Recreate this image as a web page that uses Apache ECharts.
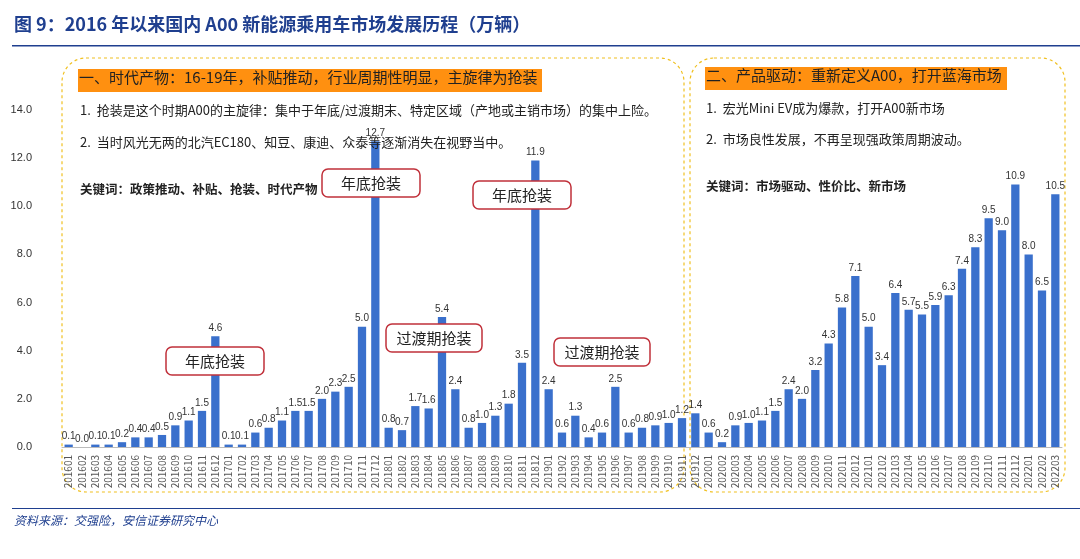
<!DOCTYPE html><html><head><meta charset="utf-8">
<script src="https://cdn.jsdelivr.net/npm/echarts@6/dist/echarts.min.js"></script>
<style>body{margin:0}#c{width:1080px;height:559px}</style></head><body><div id="c"></div><script>
const years=['2016','2017','2018','2019','2020','2021','2022'];
const categories=[];
years.forEach(y=>{for(let m=1;m<=12;m++){if(y==='2022'&&m>3)break;categories.push(y+String(m).padStart(2,'0'));}});
const values=[0.1,0.0,0.1,0.1,0.2,0.4,0.4,0.5,0.9,1.1,1.5,4.6,
0.1,0.1,0.6,0.8,1.1,1.5,1.5,2.0,2.3,2.5,5.0,12.7,
0.8,0.7,1.7,1.6,5.4,2.4,0.8,1.0,1.3,1.8,3.5,11.9,
2.4,0.6,1.3,0.4,0.6,2.5,0.6,0.8,0.9,1.0,1.2,1.4,
0.6,0.2,0.9,1.0,1.1,1.5,2.4,2.0,3.2,4.3,5.8,7.1,
5.0,3.4,6.4,5.7,5.5,5.9,6.3,7.4,8.3,9.5,9.0,10.9,
8.0,6.5,10.5];
const F='"Noto Sans CJK SC","Noto Sans",sans-serif';
const txt=(x,y,t,o={})=>({type:'text',left:x,top:y,z:100,style:Object.assign({text:t,font:'13px '+F,fill:'#222'},o)});
const tag=(cx,cy,w,t)=>[
 {type:'rect',z:100,shape:{x:cx-w/2,y:cy-14,width:w,height:28,r:6},style:{fill:'#fff',stroke:'#c0303a',lineWidth:1.5}},
 {type:'text',z:101,style:{x:cx,y:cy,text:t,font:'15px '+F,fill:'#222',align:'center',verticalAlign:'middle'}}];
const chart=echarts.init(document.getElementById('c'));
chart.setOption({
 animation:false,
 grid:{left:62,right:18,top:110,bottom:112},
 xAxis:{type:'category',data:categories,axisTick:{show:false},axisLine:{lineStyle:{color:'#bbb'}},
  axisLabel:{rotate:90,interval:0,fontSize:10,color:'#555',fontFamily:F}},
 yAxis:{type:'value',min:0,max:14,interval:2,splitLine:{show:false},axisLabel:{formatter:v=>v.toFixed(1),fontSize:11,color:'#333',margin:30}},
 series:[{type:'bar',data:values,barWidth:'62%',itemStyle:{color:'#3a70cc'},
  label:{show:true,position:'top',formatter:p=>p.value.toFixed(1),fontSize:10,color:'#333',distance:3}}],
 graphic:[
  txt(14,15,'图 9：2016 年以来国内 A00 新能源乘用车市场发展历程（万辆）',{font:'bold 18px '+F,fill:'#1f3f8f'}),
  {type:'rect',shape:{x:12,y:45,width:1068,height:1.5},style:{fill:'#1f3f8f'}},
  {type:'rect',shape:{x:12,y:508,width:1068,height:1},style:{fill:'#1f3f8f'}},
  txt(14,514,'资料来源：交强险，安信证券研究中心',{font:'italic 12px '+F,fill:'#1f3f8f'}),
  {type:'rect',shape:{x:62,y:58,width:622,height:434,r:24},style:{fill:'none',stroke:'#f0c020',lineDash:[3,3],lineWidth:1.2}},
  {type:'rect',shape:{x:690,y:58,width:375,height:434,r:24},style:{fill:'none',stroke:'#f0c020',lineDash:[3,3],lineWidth:1.2}},
  {type:'rect',z:99,shape:{x:78,y:69,width:464,height:23},style:{fill:'#ff9010'}},
  txt(79,70,'一、时代产物：16-19年，补贴推动，行业周期性明显，主旋律为抢装',{font:'15px '+F,fill:'#222'}),
  txt(80,104,'1.  抢装是这个时期A00的主旋律：集中于年底/过渡期末、特定区域（产地或主销市场）的集中上险。'),
  txt(80,136,'2.  当时风光无两的北汽EC180、知豆、康迪、众泰等逐渐消失在视野当中。'),
  txt(80,183,'关键词：政策推动、补贴、抢装、时代产物',{font:'bold 12.5px '+F}),
  {type:'rect',z:99,shape:{x:705,y:67,width:302,height:23},style:{fill:'#ff9010'}},
  txt(706,68,'二、产品驱动：重新定义A00，打开蓝海市场',{font:'15px '+F,fill:'#222'}),
  txt(706,102,'1.  宏光Mini EV成为爆款，打开A00新市场'),
  txt(706,133,'2.  市场良性发展，不再呈现强政策周期波动。'),
  txt(706,180,'关键词：市场驱动、性价比、新市场',{font:'bold 12.5px '+F}),
  ...tag(215,361,98,'年底抢装'),
  ...tag(371,183,98,'年底抢装'),
  ...tag(522,195,98,'年底抢装'),
  ...tag(434,338,96,'过渡期抢装'),
  ...tag(602,352,96,'过渡期抢装')
 ]
});
</script></body></html>
